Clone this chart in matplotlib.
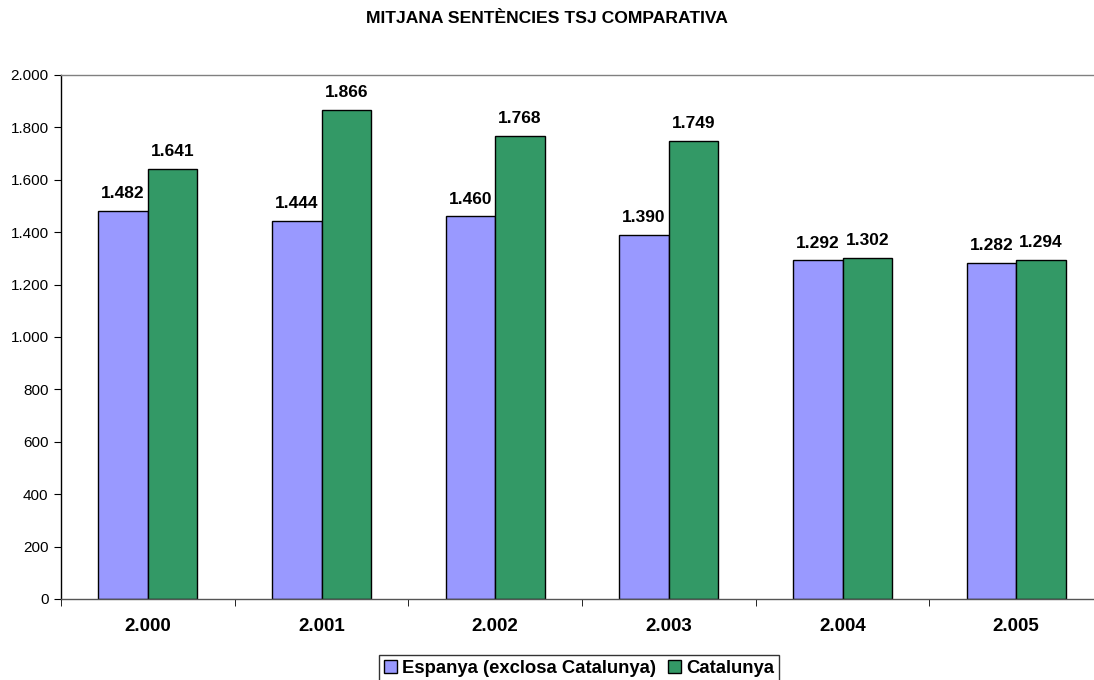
import matplotlib
matplotlib.use('Agg')
import matplotlib.pyplot as plt
import numpy as np

years = ['2.000', '2.001', '2.002', '2.003', '2.004', '2.005']
espanya = [1482, 1444, 1460, 1390, 1292, 1282]
catalunya = [1641, 1866, 1768, 1749, 1302, 1294]
espanya_lbl = ['1.482', '1.444', '1.460', '1.390', '1.292', '1.282']
catalunya_lbl = ['1.641', '1.866', '1.768', '1.749', '1.302', '1.294']
yticks = [0, 200, 400, 600, 800, 1000, 1200, 1400, 1600, 1800, 2000]
ytick_lbl = ['0', '200', '400', '600', '800', '1.000', '1.200', '1.400', '1.600', '1.800', '2.000']

plt.rcParams['font.family'] = ['Liberation Sans', 'DejaVu Sans']

fig = plt.figure(figsize=(10.94, 6.8), dpi=100)
ax = fig.add_axes([61 / 1094, 1 - 599 / 680, 1042 / 1094, 524 / 680])

x = np.arange(len(years))
w = 0.285
b1 = ax.bar(x - w / 2, espanya, w, color='#9999FF', edgecolor='black', linewidth=1,
            label='Espanya (exclosa Catalunya)')
b2 = ax.bar(x + w / 2, catalunya, w, color='#339966', edgecolor='black', linewidth=1,
            label='Catalunya')
ax.bar_label(b1, labels=espanya_lbl, padding=7, fontsize=12.5, fontweight='bold')
ax.bar_label(b2, labels=catalunya_lbl, padding=7, fontsize=12.5, fontweight='bold')

ax.set_xlim(-0.5, len(years) - 0.5)
ax.set_ylim(0, 2000)
ax.set_yticks(yticks)
ax.set_yticklabels(ytick_lbl, fontsize=11)
ax.set_xticks(x)
ax.set_xticklabels(years, fontsize=13.5, fontweight='bold')
ax.set_xticks(np.arange(len(years) + 1) - 0.5, minor=True)
ax.tick_params(axis='x', which='major', length=0, pad=14)
ax.tick_params(axis='x', which='minor', length=5, direction='out', color='black')
ax.tick_params(axis='y', length=5, direction='out', color='black', pad=4)

ax.spines['left'].set_color('black')
ax.spines['bottom'].set_color('#555555')
ax.spines['top'].set_color('#808080')
ax.spines['right'].set_visible(False)
for s in ax.spines.values():
    s.set_linewidth(1)

fig.suptitle('MITJANA SENTÈNCIES TSJ COMPARATIVA', y=1 - 11 / 680, va='top',
             fontsize=12.6, fontweight='bold')

leg = fig.legend(loc='upper center', bbox_to_anchor=(579 / 1094, 1 - 655 / 680), ncol=2,
                 frameon=True, fancybox=False, edgecolor='black', borderpad=0.25,
                 borderaxespad=0, handlelength=0.7, handleheight=0.7, handletextpad=0.27,
                 columnspacing=0.7, prop={'size': 13.3, 'weight': 'bold'})
leg.get_frame().set_linewidth(1)

fig.savefig('out.png', dpi=100)
